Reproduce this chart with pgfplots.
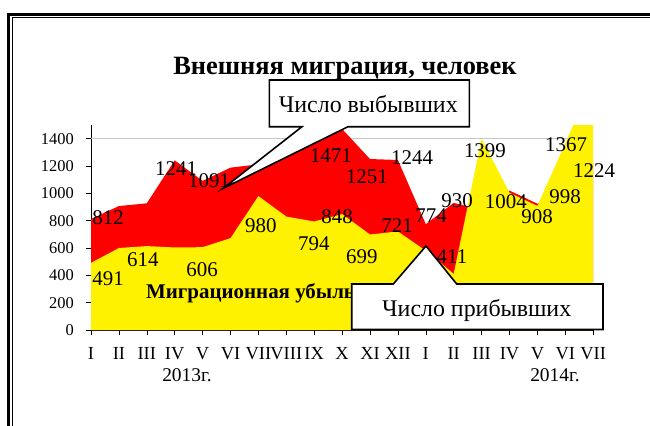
\documentclass[border=0pt]{standalone}
\usepackage{fontspec}
\setmainfont{Liberation Serif}
\usepackage{pgfplots}
\pgfplotsset{compat=1.18}
\begin{document}
\begin{tikzpicture}
\path[use as bounding box] (0,0) rectangle (650bp,-426bp);
\clip (0,0) rectangle (650bp,-426bp);
% frame and title (pixel coordinates, y downwards)
\begin{scope}[x=1bp,y=-1bp]
  \draw[line width=2.5bp] (8.7,14.7) rectangle (700,500);
  \draw[line width=1bp] (12.2,17.8) rectangle (700,500);
  \node[font=\bfseries\fontsize{26.5}{30}\selectfont,anchor=base,inner sep=0pt] at (345,74) {Внешняя миграция, человек};
\end{scope}
\begin{axis}[
    at={(91bp,-330bp)}, anchor=south west,
    width=502.2bp, height=205bp, scale only axis,
    xmin=0, xmax=18, ymin=0, ymax=1500,
    axis lines*=left,
    clip mode=individual,
    xtick={0,...,18},
    xticklabels={I,II,III,IV,V,VI,VII,VIII,IX,X,XI,XII,I,II,III,IV,V,VI,VII},
    ytick={0,200,...,1400},
    tick align=outside, major tick length=5bp,
    tick style={black,line width=0.6bp},
    axis line style={line width=0.8bp},
    tick label style={inner sep=0pt},
    xticklabel style={font=\fontsize{18.5}{20}\selectfont,anchor=north,yshift=-12bp},
    yticklabel style={font=\fontsize{16.5}{18}\selectfont,anchor=east,xshift=-12bp},
    /pgf/number format/assume math mode=true,
    /pgf/number format/1000 sep={},
]
% gridline at 1400
\addplot[gray!45,line width=1bp] coordinates {(0,1400) (18,1400)};
% departures
\addplot[fill=red,draw=none] coordinates {
 (0,812) (1,907) (2,927) (3,1241) (4,1091) (5,1188) (6,1212) (7,1275) (8,1365) (9,1471)
 (10,1251) (11,1244) (12,774) (13,930) (14,880) (15,1020) (16,924) (17,998) (18,1224)} \closedcycle;
% arrivals
\addplot[fill=yellow,draw=none] coordinates {
 (0,491) (1,600) (2,614) (3,604) (4,606) (5,672) (6,980) (7,830) (8,794) (9,848)
 (10,699) (11,721) (12,580) (13,411) (14,1399) (15,1004) (16,908) (17,1367) (18,1830)} \closedcycle;
% data labels
\begin{scope}[every node/.style={font=\fontsize{21}{24}\selectfont,inner sep=0pt,anchor=center}]
\node at (axis cs:0.61,820) {812};
\node at (axis cs:0.61,373) {491};
\node at (axis cs:1.86,512) {614};
\node at (axis cs:3.05,1178) {1241};
\node at (axis cs:4.23,1090) {1091};
\node at (axis cs:3.98,440) {606};
\node at (axis cs:6.09,761) {980};
\node at (axis cs:7.99,629) {794};
\node at (axis cs:8.82,827) {848};
\node at (axis cs:8.60,1273) {1471};
\node at (axis cs:9.89,1120) {1251};
\node at (axis cs:9.71,534) {699};
\node at (axis cs:11.51,1259) {1244};
\node at (axis cs:10.97,761) {721};
\node at (axis cs:12.19,834) {774};
\node at (axis cs:12.94,534) {411};
\node at (axis cs:13.12,944) {930};
\node at (axis cs:14.12,1310) {1399};
\node at (axis cs:14.87,937) {1004};
\node at (axis cs:15.99,827) {908};
\node at (axis cs:16.99,973) {998};
\node at (axis cs:17.03,1354) {1367};
\node at (axis cs:18.03,1163) {1224};
\end{scope}
\end{axis}
% annotations (pixel coordinates, y downwards)
\begin{scope}[x=1bp,y=-1bp]
  \node[font=\bfseries\fontsize{21}{24}\selectfont,anchor=base west,inner sep=0pt] at (146,298) {Миграционная убыль};
  \node[anchor=base,inner sep=0pt,font=\fontsize{19.5}{22}\selectfont] at (187,381) {2013г.};
  \node[anchor=base,inner sep=0pt,font=\fontsize{19.5}{22}\selectfont] at (555,381) {2014г.};
  \draw[fill=white,line width=1.6bp,line join=miter]
    (269.3,80) -- (469.3,80) -- (469.3,126.7) -- (348,126.7) -- (223.3,188.3) -- (302,126.7) -- (269.3,126.7) -- cycle;
  \node[font=\fontsize{24}{28}\selectfont,anchor=base,inner sep=0pt] at (368.3,112) {Число выбывших};
  \draw[fill=white,line width=1.6bp,line join=miter]
    (351.7,284) -- (393.3,284) -- (426,246) -- (456.7,284) -- (603,284) -- (603,329.5) -- (351.7,329.5) -- cycle;
  \node[font=\fontsize{24}{28}\selectfont,anchor=base,inner sep=0pt] at (476.7,316) {Число прибывших};
\end{scope}
\end{tikzpicture}
\end{document}
